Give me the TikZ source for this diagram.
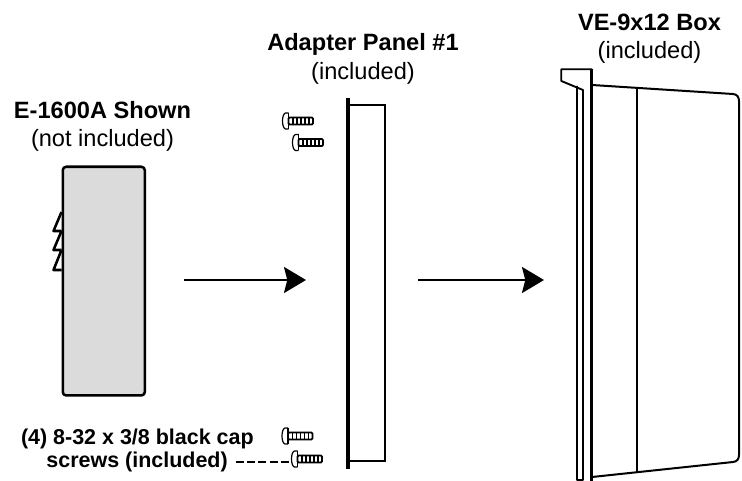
\documentclass[tikz,border=0pt]{standalone}
\usepackage{fontspec}
\setmainfont{Liberation Sans}
\usetikzlibrary{arrows.meta}
\tikzset{
  lbl/.style={inner sep=0pt,align=center,font=\fontsize{17.7}{21.3}\selectfont},
  smalllbl/.style={inner sep=0pt,align=right,font=\fontsize{16.1}{17.2}\selectfont\bfseries},
  outln/.style={draw=black,line width=1.9pt,line join=round},
  flow/.style={draw=black,line width=1.8pt,-{Stealth[length=16.5pt,width=19.5pt,inset=2.5pt]}},
  screwpart/.pic={
    \draw[black,line width=.9pt,fill=white] (6.5,-8) -- (3.5,-8) .. controls (-.5,-7) and (-.5,7) .. (3.5,8) -- (6.5,8);
    \draw[black,line width=.9pt] (6.5,-8) -- (6.5,8);
    \draw[black,line width=1.3pt,fill=white,rounded corners=.8pt] (6.5,-3.4) rectangle (31,3.4);
    \foreach \q in {11,15,19,23,27} \draw[black,line width=1.2pt] (\q,-3.4) -- (\q,3.4);
  }
}
\begin{document}
\begin{tikzpicture}[x=.75pt,y=-.75pt]
\useasboundingbox (0,0) rectangle (742,481);
% left unit
\draw[outln] (61.5,212) -- (53.5,231) -- (61.5,231) (61.5,231) -- (53.5,250) -- (61.5,250) (61.5,250) -- (53.5,270) -- (61.5,270);
\node[outln,fill=black!14,rounded corners=2.5pt,minimum width=61.5pt,inner sep=0pt,anchor=north west,minimum height=171.5pt] (unit) at (61.5,165.5) {};
\node[lbl] (unitlabel) at (102.5,126.5) {\textbf{E-1600A Shown}\\(not included)};
% adapter panel
\draw[black,line width=1.6pt] (349,105) -- (385,105) -- (385,461) -- (349,461);
\draw[black,line width=3.6pt] (348,98) -- (348,469);
\node[lbl] (panellabel) at (363,59) {\textbf{Adapter Panel \#1}\\(included)};
% screws
\path (282,121) pic {screwpart};
\path (292,142.5) pic {screwpart};
\path (281.5,436) pic {screwpart};
\path (291,459) pic {screwpart};
\coordinate (dashstart) at (236,461.7);
\coordinate (dashend) at (291,461.7);
\draw[black,line width=1.7pt,dash pattern=on 6pt off 2.4pt] (dashstart) -- (dashend);
\node[smalllbl,anchor=north east] (screwlabel) at (254,428.5) {(4) 8-32 x 3/8 black cap\\screws (included)\hspace*{19.5pt}};
% box
\draw[black,line width=1.5pt,line join=round] (592,85) -- (733,94) .. controls (737,94.3) and (739,97) .. (739,101) -- (739,455) .. controls (739,459) and (737,461.7) .. (733,462) -- (592,477);
\draw[black,line width=1.5pt] (636.7,88) -- (636.7,472);
\draw[black,line width=1.4pt,line join=round] (592,69.3) -- (561.3,69.3) -- (561.3,81) -- (583,90) -- (583,480) -- (577,480) -- (577,86);
\draw[black,line width=2.4pt] (591.5,69) -- (591.5,481);
\node[lbl] (boxlabel) at (649.5,38.5) {\textbf{VE-9x12 Box}\\(included)};
% arrows
\coordinate (a1) at (184,280); \coordinate (a2) at (306,280);
\coordinate (b1) at (418,280); \coordinate (b2) at (544,280);
\draw[flow] (a1) -- (a2);
\draw[flow] (b1) -- (b2);
\end{tikzpicture}
\end{document}
